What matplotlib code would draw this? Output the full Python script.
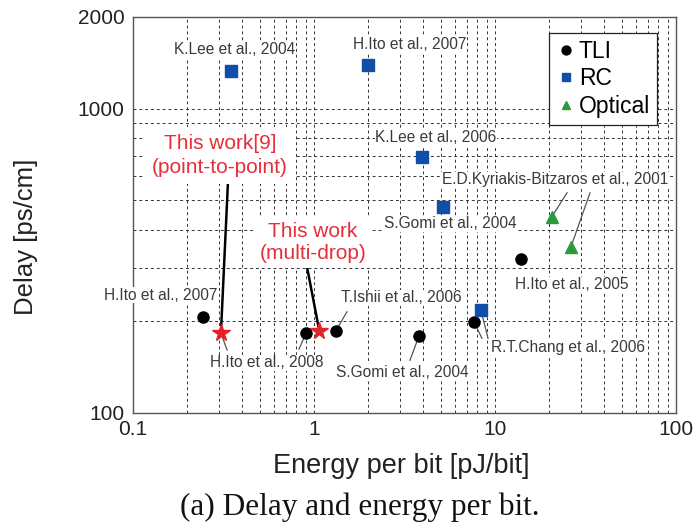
import matplotlib
matplotlib.use("Agg")
import matplotlib.pyplot as plt
import numpy as np

plt.rcParams['font.family'] = ['Liberation Sans', 'DejaVu Sans']

# ---- data ----
tli_x = [0.244, 0.904, 1.32, 3.8, 7.65, 13.9]
tli_y = [207, 183, 186, 179, 199, 321]
rc_x = [0.347, 1.99, 3.95, 5.16, 8.37]
rc_y = [1334, 1396, 695, 476, 218]
opt_x = [20.6, 26.3]
opt_y = [441, 352]
this_x = [0.306, 1.07]
this_y = [183, 186]

ref_labels = ["K.Lee et al., 2004", "H.Ito et al., 2007", "K.Lee et al., 2006",
              "E.D.Kyriakis-Bitzaros et al., 2001", "S.Gomi et al., 2004",
              "H.Ito et al., 2005", "H.Ito et al., 2007", "T.Ishii et al., 2006",
              "H.Ito et al., 2008", "S.Gomi et al., 2004", "R.T.Chang et al., 2006"]
ref_lx = [0.366, 3.39, 4.72, 21.4, 5.64, 26.6, 0.143, 3.02, 0.55, 3.06, 25.3]
ref_ly = [1563, 1624, 803, 583, 418, 264, 244, 239, 146, 136, 164]

this_labels = ["This work[9]\n(point-to-point)", "This work\n(multi-drop)"]
this_lx = [0.303, 0.987]
this_ly = [700, 362]

# leader lines (x0, y0, x1, y1)
thin_leaders = [
    (25.0, 529, 20.6, 441),
    (33.5, 529, 26.3, 352),
    (1.52, 215, 1.32, 186),
    (0.826, 162, 0.904, 183),
    (3.39, 149, 3.8, 179),
    (8.47, 176, 7.75, 196),
    (9.15, 176, 8.45, 212),
    (0.331, 161, 0.306, 183),
]
thick_leaders = [
    (0.335, 580, 0.306, 183),
    (0.915, 302, 1.07, 186),
]

xticks = [0.1, 1, 10, 100]
xtick_labels = ["0.1", "1", "10", "100"]
yticks = [100, 1000, 2000]
ytick_labels = ["100", "1000", "2000"]

fig = plt.figure(figsize=(6.93, 5.24), dpi=100)
ax = fig.add_axes([133/693, 1-413/524, (676-133)/693, (413-17)/524])
ax.set_xscale('log')
ax.set_yscale('log')
ax.set_xlim(0.1, 100)
ax.set_ylim(100, 2000)

ax.grid(True, which='both', color='#333333', linestyle=(0, (3, 3)), linewidth=0.7)
ax.set_axisbelow(True)

for (x0, y0, x1, y1) in thin_leaders:
    ax.plot([x0, x1], [y0, y1], color='#555555', lw=0.9, zorder=3)
for (x0, y0, x1, y1) in thick_leaders:
    ax.plot([x0, x1], [y0, y1], color='black', lw=1.8, zorder=3)

ax.plot(tli_x, tli_y, 'o', color='black', ms=8, ls='none', label='TLI', zorder=5)
ax.plot(rc_x, rc_y, 's', color='#0f4fa8', ms=8, ls='none', label='RC', zorder=5)
ax.plot(opt_x, opt_y, '^', color='#2a9a3a', ms=8, ls='none', label='Optical', zorder=5)
ax.plot(this_x, this_y, '*', color='#e8202a', ms=13, ls='none', zorder=6)

for t, x, y in zip(ref_labels, ref_lx, ref_ly):
    ax.text(x, y, t, ha='center', va='center', fontsize=11.2, color='#3a3a3a',
            bbox=dict(facecolor='white', edgecolor='none', pad=0.5), zorder=4)
this_pads = [5, 3.5]
this_spacing = [1.35, 1.2]
for t, x, y, p, ls in zip(this_labels, this_lx, this_ly, this_pads, this_spacing):
    ax.text(x, y, t, ha='center', va='center', fontsize=15, color='#e3303a',
            linespacing=ls,
            bbox=dict(facecolor='white', edgecolor='none', pad=p), zorder=4)

ax.set_xticks(xticks)
ax.set_xticklabels(xtick_labels)
ax.set_yticks(yticks)
ax.set_yticklabels(ytick_labels)
ax.xaxis.set_minor_formatter(matplotlib.ticker.NullFormatter())
ax.yaxis.set_minor_formatter(matplotlib.ticker.NullFormatter())
ax.tick_params(which='both', direction='in', length=0, labelsize=15, colors='#222222')
ax.tick_params(axis='y', pad=6)
ax.tick_params(axis='x', pad=5)

for s in ax.spines.values():
    s.set_color('#555555')
    s.set_linewidth(1.0)

ax.set_xlabel("Energy per bit [pJ/bit]", fontsize=19.5, color='#222222')
ax.set_ylabel("Delay [ps/cm]", fontsize=18.5, color='#222222')
ax.xaxis.set_label_coords(0.494, -0.101)
ax.yaxis.set_label_coords(-0.175, 0.444)

leg = ax.legend(loc='upper right', bbox_to_anchor=(0.965, 0.96), borderaxespad=0,
                fontsize=16.5, handletextpad=0.1, handlelength=0.9, borderpad=0.3,
                labelspacing=0.2, markerscale=0.8, fancybox=False, framealpha=1,
                edgecolor='#222222')
leg.get_frame().set_linewidth(0.9)

fig.text(360/693, 1-515/524, "(a) Delay and energy per bit.", ha='center', va='baseline',
         fontsize=22.5, family='Liberation Serif', color='#111111')

fig.savefig("out.png", dpi=100)
